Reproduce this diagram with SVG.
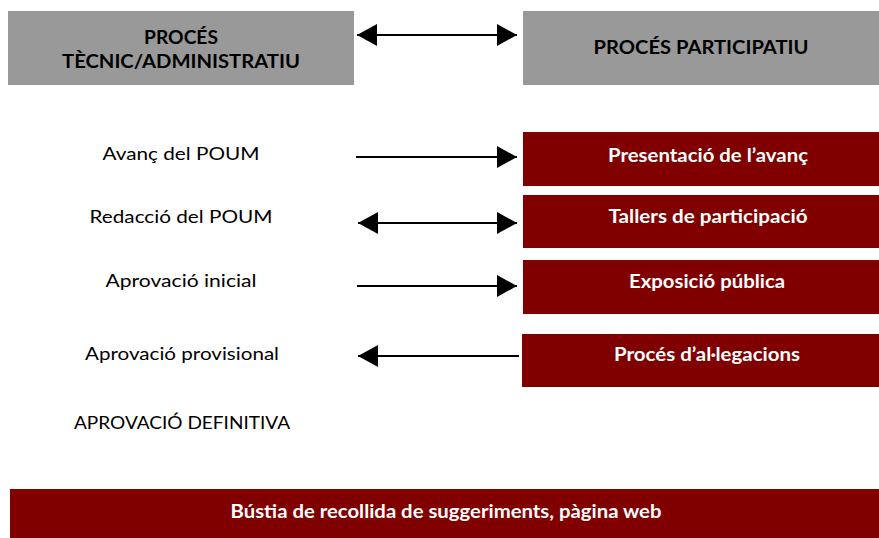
<svg xmlns="http://www.w3.org/2000/svg" width="879" height="538" viewBox="0 0 879 538">
<defs>
<style>
.hdr{fill:#999999}
.red{fill:#800000}
.ht{font-family:Lato,"Open Sans","DejaVu Sans",sans-serif;font-weight:bold;font-size:18px;fill:#000;text-anchor:middle}
.lt{font-family:Lato,"Open Sans","DejaVu Sans",sans-serif;font-size:18px;fill:#000;text-anchor:middle}
.rt{font-family:Lato,"Open Sans","DejaVu Sans",sans-serif;font-weight:bold;font-size:18px;fill:#fff;text-anchor:middle}
.ln{stroke:#000;stroke-width:2;fill:none}
</style>
<marker id="ah" viewBox="0 0 20 22" refX="20" refY="11" markerWidth="20" markerHeight="22" markerUnits="userSpaceOnUse" orient="auto-start-reverse">
<path d="M0,0 L20,11 L0,22 Z" fill="#000"/>
</marker>
</defs>
<rect width="879" height="538" fill="#fff"/>
<g id="tecnic">
<rect class="hdr" x="8" y="11" width="346" height="74"/>
<text class="ht" x="181" y="44" textLength="74" lengthAdjust="spacingAndGlyphs">PROCÉS</text>
<text class="ht" x="181" y="68" textLength="238" lengthAdjust="spacingAndGlyphs">TÈCNIC/ADMINISTRATIU</text>
</g>
<g id="participatiu">
<rect class="hdr" x="523" y="11" width="356" height="74"/>
<text class="ht" x="701" y="54" textLength="215" lengthAdjust="spacingAndGlyphs">PROCÉS PARTICIPATIU</text>
</g>
<g id="avanc"><text class="lt" x="181" y="160" textLength="157" lengthAdjust="spacingAndGlyphs">Avanç del POUM</text></g>
<g id="redaccio"><text class="lt" x="181" y="223" textLength="183" lengthAdjust="spacingAndGlyphs">Redacció del POUM</text></g>
<g id="inicial"><text class="lt" x="181" y="287" textLength="151" lengthAdjust="spacingAndGlyphs">Aprovació inicial</text></g>
<g id="provisional"><text class="lt" x="182" y="360" textLength="194" lengthAdjust="spacingAndGlyphs">Aprovació provisional</text></g>
<g id="definitiva"><text class="lt" x="182" y="429" textLength="216" lengthAdjust="spacingAndGlyphs">APROVACIÓ DEFINITIVA</text></g>
<g id="presentacio">
<rect class="red" x="523" y="132" width="356" height="54"/>
<text class="rt" x="708" y="162" textLength="200" lengthAdjust="spacingAndGlyphs">Presentació de l’avanç</text>
</g>
<g id="tallers">
<rect class="red" x="523" y="195" width="356" height="53"/>
<text class="rt" x="708" y="223" textLength="199" lengthAdjust="spacingAndGlyphs">Tallers de participació</text>
</g>
<g id="exposicio">
<rect class="red" x="523" y="260" width="356" height="54"/>
<text class="rt" x="707" y="288" textLength="156" lengthAdjust="spacingAndGlyphs">Exposició pública</text>
</g>
<g id="allegacions">
<rect class="red" x="522" y="334" width="357" height="53"/>
<text class="rt" x="707" y="361" textLength="186" lengthAdjust="spacingAndGlyphs">Procés d’al·legacions</text>
</g>
<g id="bustia">
<rect class="red" x="10" y="489" width="869" height="49"/>
<text class="rt" x="446" y="518" textLength="431" lengthAdjust="spacingAndGlyphs">Bústia de recollida de suggeriments, pàgina web</text>
</g>
<g id="connectors">
<line class="ln" x1="357" y1="35" x2="517" y2="35" marker-start="url(#ah)" marker-end="url(#ah)"/>
<line class="ln" x1="356" y1="157" x2="517" y2="157" marker-end="url(#ah)"/>
<line class="ln" x1="358" y1="223" x2="517" y2="223" marker-start="url(#ah)" marker-end="url(#ah)"/>
<line class="ln" x1="357" y1="286" x2="517" y2="286" marker-end="url(#ah)"/>
<line class="ln" x1="519" y1="356" x2="358" y2="356" marker-end="url(#ah)"/>
</g>
</svg>
